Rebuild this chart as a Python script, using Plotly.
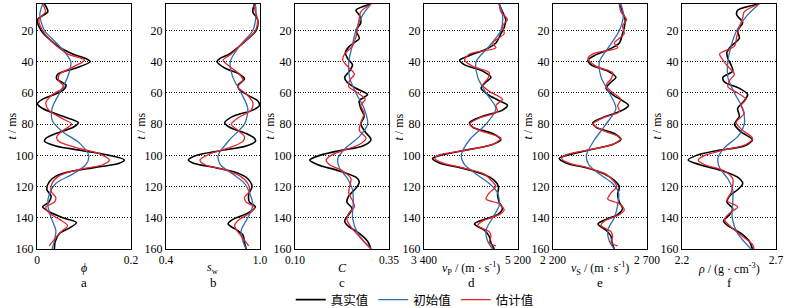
import plotly.graph_objects as go

# ---------------- data (t in ms, values in panel units) ----------------
# a: porosity phi
PHI_TRUE_T = [3, 8, 13, 20, 30, 35, 38, 40, 44, 48, 51, 55, 58, 61, 64, 67, 70, 75, 79, 82, 86, 89, 91, 94, 97, 100, 103, 105, 108, 110, 113, 117, 122, 126, 130, 133, 136, 140, 143, 146, 150, 155, 160]
PHI_TRUE = [0.016, 0.023, 0.001, 0.009, 0.044, 0.076, 0.104, 0.113, 0.083, 0.044, 0.042, 0.062, 0.056, 0.037, 0.012, 0.001, 0.012, 0.055, 0.088, 0.077, 0.040, 0.019, 0.016, 0.040, 0.097, 0.154, 0.186, 0.175, 0.118, 0.076, 0.042, 0.026, 0.021, 0.030, 0.025, 0.012, 0.025, 0.055, 0.084, 0.072, 0.048, 0.039, 0.037]
PHI_INIT_T = [3, 10, 20, 30, 40, 50, 60, 70, 78, 85, 92, 100, 106, 112, 118, 125, 132, 140, 148, 155, 160]
PHI_INIT = [0.012, 0.006, 0.016, 0.048, 0.072, 0.065, 0.048, 0.032, 0.033, 0.055, 0.090, 0.110, 0.104, 0.076, 0.040, 0.026, 0.023, 0.030, 0.040, 0.037, 0.032]
PHI_EST_T = [3, 8, 13, 20, 30, 35, 39, 43, 48, 52, 56, 61, 66, 71, 76, 80, 84, 88, 91, 95, 99, 103, 106, 109, 113, 118, 123, 127, 130, 133, 137, 141, 145, 149, 153, 158]
PHI_EST = [0.012, 0.018, 0.004, 0.012, 0.042, 0.065, 0.101, 0.079, 0.048, 0.046, 0.058, 0.033, 0.019, 0.025, 0.051, 0.074, 0.055, 0.042, 0.046, 0.083, 0.133, 0.154, 0.140, 0.090, 0.048, 0.032, 0.030, 0.040, 0.037, 0.019, 0.026, 0.048, 0.065, 0.051, 0.039, 0.026]

# b: water saturation sw
SW_TRUE_T = [3, 8, 13, 20, 30, 35, 38, 40, 44, 48, 51, 55, 58, 62, 65, 68, 71, 75, 79, 82, 86, 89, 91, 94, 97, 100, 103, 105, 108, 111, 115, 120, 125, 130, 133, 137, 141, 144, 147, 151, 156, 160]
SW_TRUE = [0.964, 0.954, 0.985, 0.975, 0.869, 0.806, 0.743, 0.726, 0.775, 0.869, 0.901, 0.859, 0.869, 0.933, 0.985, 0.996, 0.954, 0.827, 0.775, 0.806, 0.912, 0.964, 0.971, 0.912, 0.743, 0.596, 0.543, 0.575, 0.722, 0.848, 0.922, 0.949, 0.928, 0.933, 0.971, 0.922, 0.827, 0.796, 0.838, 0.891, 0.901, 0.912]
SW_INIT_T = [3, 10, 20, 30, 40, 50, 60, 70, 80, 90, 100, 106, 112, 118, 125, 132, 140, 148, 155, 160]
SW_INIT = [0.971, 0.975, 0.954, 0.869, 0.810, 0.827, 0.880, 0.922, 0.901, 0.806, 0.733, 0.747, 0.827, 0.901, 0.937, 0.954, 0.922, 0.880, 0.891, 0.912]
SW_EST_T = [3, 8, 13, 20, 30, 35, 39, 43, 48, 52, 56, 61, 66, 71, 76, 80, 84, 88, 91, 95, 99, 103, 106, 109, 113, 118, 123, 127, 130, 133, 137, 141, 145, 149, 153, 158]
SW_EST = [0.958, 0.971, 0.985, 0.971, 0.869, 0.817, 0.764, 0.806, 0.869, 0.891, 0.859, 0.916, 0.954, 0.943, 0.859, 0.817, 0.859, 0.901, 0.891, 0.806, 0.680, 0.617, 0.648, 0.764, 0.869, 0.922, 0.933, 0.901, 0.912, 0.964, 0.937, 0.869, 0.838, 0.859, 0.891, 0.928]

# c: clay content C
C_TRUE_T = [3, 7, 10, 15, 20, 25, 30, 34, 38, 42, 46, 50, 53, 57, 61, 65, 70, 75, 80, 85, 90, 94, 97, 100, 103, 106, 110, 114, 117, 121, 126, 130, 134, 138, 142, 145, 150, 155, 160]
C_TRUE = [0.302, 0.262, 0.271, 0.275, 0.262, 0.271, 0.245, 0.234, 0.240, 0.253, 0.245, 0.232, 0.238, 0.262, 0.293, 0.271, 0.275, 0.284, 0.275, 0.287, 0.302, 0.280, 0.218, 0.166, 0.139, 0.161, 0.218, 0.262, 0.271, 0.262, 0.243, 0.238, 0.252, 0.243, 0.232, 0.240, 0.271, 0.293, 0.302]
C_INIT_T = [3, 10, 20, 30, 40, 50, 60, 70, 80, 88, 95, 102, 108, 115, 122, 130, 140, 150, 160]
C_INIT = [0.302, 0.280, 0.262, 0.252, 0.243, 0.245, 0.262, 0.284, 0.293, 0.271, 0.236, 0.214, 0.218, 0.240, 0.253, 0.255, 0.253, 0.267, 0.302]
C_EST_T = [3, 8, 12, 18, 24, 30, 35, 39, 43, 48, 52, 56, 60, 64, 68, 73, 79, 84, 89, 93, 97, 100, 103, 106, 110, 115, 119, 124, 129, 133, 137, 141, 146, 152, 160]
C_EST = [0.302, 0.275, 0.271, 0.267, 0.262, 0.253, 0.232, 0.227, 0.240, 0.258, 0.245, 0.243, 0.267, 0.287, 0.275, 0.284, 0.275, 0.271, 0.289, 0.271, 0.227, 0.196, 0.183, 0.192, 0.227, 0.249, 0.246, 0.243, 0.253, 0.258, 0.243, 0.238, 0.249, 0.271, 0.302]

# d: P-wave velocity vp (m/s)
VP_TRUE_T = [3, 8, 13, 18, 22, 28, 32, 36, 39, 42, 46, 50, 53, 57, 61, 65, 68, 71, 75, 79, 82, 86, 90, 93, 97, 100, 102, 105, 108, 112, 116, 120, 125, 130, 134, 138, 141, 144, 148, 152, 156, 160]
VP_TRUE = [4840, 4903, 4966, 4935, 4872, 4777, 4587, 4272, 4082, 4177, 4524, 4682, 4587, 4493, 4619, 4840, 4998, 4903, 4524, 4272, 4335, 4714, 4872, 4714, 4145, 3703, 3564, 3703, 4114, 4524, 4745, 4827, 4808, 4840, 4903, 4808, 4556, 4366, 4556, 4651, 4682, 4745]
VP_INIT_T = [3, 10, 20, 30, 40, 50, 60, 70, 80, 90, 100, 106, 112, 118, 124, 132, 140, 148, 155, 160]
VP_INIT = [4840, 4903, 4872, 4651, 4398, 4430, 4587, 4777, 4587, 4272, 4114, 4177, 4398, 4651, 4808, 4840, 4714, 4587, 4619, 4714]
VP_EST_T = [3, 8, 13, 17, 22, 28, 31, 35, 39, 43, 47, 51, 55, 59, 64, 68, 72, 76, 80, 84, 89, 93, 97, 100, 102, 105, 108, 112, 117, 120, 124, 128, 131, 135, 138, 142, 145, 149, 152, 156, 158]
VP_EST = [4840, 4872, 4998, 4903, 4935, 4714, 4777, 4272, 4177, 4335, 4651, 4619, 4524, 4651, 4903, 4777, 4808, 4461, 4272, 4461, 4872, 4714, 4145, 3671, 3608, 3766, 4145, 4556, 4714, 4777, 4651, 4587, 4840, 4935, 4840, 4524, 4430, 4651, 4682, 4651, 4777]

# e: S-wave velocity vs (m/s)
VS_TRUE_T = VP_TRUE_T
VS_TRUE = [2553, 2570, 2584, 2579, 2570, 2553, 2500, 2421, 2386, 2403, 2491, 2535, 2509, 2482, 2517, 2570, 2602, 2570, 2482, 2412, 2430, 2526, 2561, 2517, 2377, 2272, 2233, 2272, 2377, 2474, 2526, 2553, 2544, 2553, 2570, 2544, 2482, 2439, 2482, 2509, 2514, 2526]
VS_INIT_T = VP_INIT_T
VS_INIT = [2561, 2574, 2553, 2500, 2447, 2456, 2500, 2535, 2482, 2421, 2377, 2391, 2447, 2517, 2549, 2544, 2526, 2491, 2500, 2526]
VS_EST_T = [3, 8, 13, 17, 22, 28, 31, 35, 38, 43, 47, 51, 55, 59, 64, 68, 72, 76, 80, 84, 89, 93, 97, 100, 102, 105, 108, 112, 117, 120, 124, 128, 131, 135, 138, 142, 145, 149, 152, 156, 158]
VS_EST = [2553, 2561, 2591, 2570, 2579, 2526, 2544, 2412, 2386, 2430, 2517, 2509, 2482, 2509, 2561, 2544, 2553, 2465, 2412, 2465, 2561, 2517, 2368, 2263, 2246, 2286, 2386, 2482, 2526, 2540, 2509, 2491, 2553, 2579, 2553, 2474, 2456, 2509, 2517, 2509, 2544]

# f: density rho (g/cm3)
RHO_TRUE_T = [3, 7, 10, 15, 20, 25, 30, 34, 38, 42, 46, 50, 53, 57, 61, 65, 70, 75, 80, 85, 90, 94, 97, 100, 103, 106, 110, 114, 118, 122, 126, 130, 134, 138, 142, 145, 150, 155, 160]
RHO_TRUE = [2.610, 2.496, 2.491, 2.523, 2.496, 2.505, 2.461, 2.439, 2.444, 2.461, 2.470, 2.418, 2.426, 2.505, 2.549, 2.531, 2.496, 2.505, 2.479, 2.514, 2.575, 2.531, 2.382, 2.277, 2.233, 2.295, 2.418, 2.496, 2.523, 2.496, 2.453, 2.439, 2.470, 2.453, 2.421, 2.444, 2.514, 2.558, 2.575]
RHO_INIT_T = [3, 10, 20, 30, 40, 50, 60, 70, 80, 88, 95, 102, 108, 115, 122, 130, 140, 150, 160]
RHO_INIT = [2.610, 2.549, 2.491, 2.461, 2.444, 2.444, 2.479, 2.523, 2.531, 2.496, 2.426, 2.391, 2.400, 2.444, 2.470, 2.470, 2.467, 2.496, 2.567]
RHO_EST_T = [3, 8, 12, 18, 24, 30, 35, 39, 43, 48, 52, 56, 60, 64, 68, 73, 79, 84, 89, 93, 97, 100, 103, 106, 110, 115, 119, 124, 129, 133, 137, 141, 146, 152, 157, 160]
RHO_EST = [2.610, 2.531, 2.523, 2.505, 2.491, 2.479, 2.400, 2.418, 2.444, 2.479, 2.453, 2.444, 2.496, 2.540, 2.514, 2.531, 2.488, 2.523, 2.575, 2.540, 2.409, 2.321, 2.286, 2.321, 2.426, 2.470, 2.470, 2.461, 2.439, 2.496, 2.453, 2.426, 2.461, 2.523, 2.575, 2.584]

# panel definitions
PANEL_LETTERS = ["a", "b", "c", "d", "e", "f"]
X_TITLES = ["<i>ϕ</i>", "<i>s</i><sub>w</sub>", "<i>C</i>",
            "<i>v</i><sub>P</sub> / (m · s<sup>-1</sup>)",
            "<i>v</i><sub>S</sub> / (m · s<sup>-1</sup>)",
            "<i>ρ</i> / (g · cm<sup>-3</sup>)"]
X_RANGES = [(0, 0.2), (0.4, 1.0), (0.10, 0.35), (3400, 5200), (2200, 2700), (2.2, 2.7)]
X_TICKTEXT = [("0", "0.2"), ("0.4", "1.0"), ("0.10", "0.35"), ("3 400", "5 200"), ("2 200", "2 700"), ("2.2", "2.7")]
Y_TICKS = [20, 40, 60, 80, 100, 120, 140, 160]
SERIES_NAMES = ["真实值", "初始值", "估计值"]

PANEL_DATA = [
    [(PHI_TRUE_T, PHI_TRUE), (PHI_INIT_T, PHI_INIT), (PHI_EST_T, PHI_EST)],
    [(SW_TRUE_T, SW_TRUE), (SW_INIT_T, SW_INIT), (SW_EST_T, SW_EST)],
    [(C_TRUE_T, C_TRUE), (C_INIT_T, C_INIT), (C_EST_T, C_EST)],
    [(VP_TRUE_T, VP_TRUE), (VP_INIT_T, VP_INIT), (VP_EST_T, VP_EST)],
    [(VS_TRUE_T, VS_TRUE), (VS_INIT_T, VS_INIT), (VS_EST_T, VS_EST)],
    [(RHO_TRUE_T, RHO_TRUE), (RHO_INIT_T, RHO_INIT), (RHO_EST_T, RHO_EST)],
]

# ---------------- styling ----------------
W, H = 787, 308
M_T, M_B = 4, 59
PLOT_H = H - M_T - M_B
LEFTS = [37, 166, 295, 424, 553, 682]
PW = 94
COLORS = ["#000000", "#2f6db3", "#e3242b"]
WIDTHS = [1.6, 1.3, 1.3]
SERIF = "Liberation Serif, Times New Roman, serif"
CJK = "Noto Sans CJK SC, sans-serif"


def py(ypix):
    """pixel row (from top) -> paper y"""
    return (H - M_B - ypix) / PLOT_H


fig = go.Figure()
layout = dict(
    width=W, height=H,
    margin=dict(l=0, r=0, t=M_T, b=M_B, autoexpand=False),
    paper_bgcolor="white", plot_bgcolor="white",
    font=dict(family=SERIF, size=12, color="black"),
    showlegend=True,
    legend=dict(orientation="h", x=0.527, xanchor="center", y=py(300), yanchor="middle",
                font=dict(family=CJK, size=12.5, color="black"),
                bgcolor="rgba(0,0,0,0)", itemwidth=30, tracegroupgap=0),
)
annotations = []

for i in range(6):
    ax = "" if i == 0 else str(i + 1)
    xa, ya = "x" + ax, "y" + ax
    for k, (tt, vv) in enumerate(PANEL_DATA[i]):
        fig.add_trace(go.Scatter(
            x=vv, y=tt, mode="lines", xaxis=xa, yaxis=ya,
            line=dict(color=COLORS[k], width=WIDTHS[k], shape="spline", smoothing=0.8),
            name=SERIES_NAMES[k], showlegend=(i == 0), hoverinfo="skip"))
    x0 = LEFTS[i] / W
    x1 = (LEFTS[i] + PW) / W
    lo, hi = X_RANGES[i]
    layout["xaxis" + ax] = dict(
        domain=[x0, x1], range=[lo, hi], anchor=ya,
        tickvals=[lo, hi], ticktext=list(X_TICKTEXT[i]), ticks="",
        showgrid=False, zeroline=False, showline=True, mirror=True,
        linecolor="black", linewidth=1, tickfont=dict(family=SERIF, size=11.5))
    layout["yaxis" + ax] = dict(
        domain=[0, 1], range=[160, 3], anchor=xa,
        tickvals=Y_TICKS, ticks="", showgrid=True, gridcolor="black", griddash="1px,1.5px",
        gridwidth=1, zeroline=False, showline=True, mirror=True,
        linecolor="black", linewidth=1, tickfont=dict(family=SERIF, size=12))
    xc = (LEFTS[i] + PW / 2) / W
    annotations.append(dict(text=X_TITLES[i], x=xc, y=py(268), xref="paper", yref="paper",
                            showarrow=False, font=dict(family=SERIF, size=12), xanchor="center", yanchor="middle"))
    annotations.append(dict(text=PANEL_LETTERS[i], x=xc, y=py(282), xref="paper", yref="paper",
                            showarrow=False, font=dict(family=SERIF, size=13), xanchor="center", yanchor="middle"))
    annotations.append(dict(text="<i>t</i> / ms", x=(LEFTS[i] - 26) / W, y=0.5, xref="paper", yref="paper",
                            textangle=-90, showarrow=False, font=dict(family=SERIF, size=12),
                            xanchor="center", yanchor="middle"))

layout["annotations"] = annotations
fig.update_layout(**layout)
fig.write_html("out.html", config={"displayModeBar": False},
               post_script="document.body.style.margin='0';")
